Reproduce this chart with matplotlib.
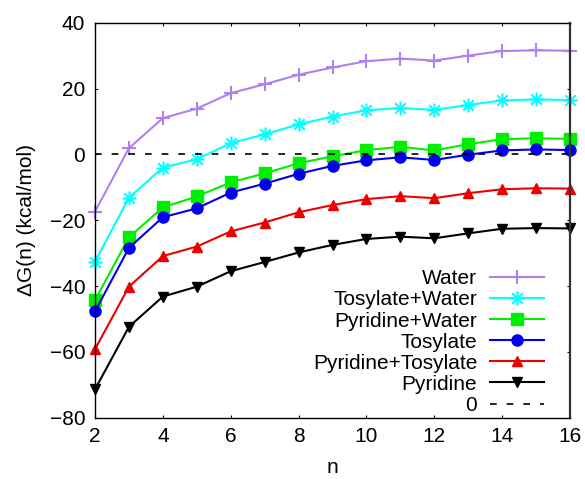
import matplotlib
matplotlib.use("Agg")
import matplotlib.pyplot as plt
from matplotlib.path import Path

plt.rcParams['font.family'] = ['Liberation Sans', 'DejaVu Sans']

n = list(range(2, 17))

water = [-17.4, 1.9, 11.0, 13.9, 18.6, 21.3, 24.2, 26.4, 28.3, 29.1, 28.5, 30.0, 31.4, 31.6, 31.5]
tos_water = [-32.6, -13.2, -4.0, -1.5, 3.4, 6.1, 9.1, 11.5, 13.4, 14.1, 13.5, 15.0, 16.4, 16.7, 16.5]
pyr_water = [-44.3, -25.2, -16.1, -12.8, -8.5, -5.8, -2.7, -0.6, 1.3, 2.3, 1.2, 3.1, 4.6, 4.9, 4.7]
tosylate = [-47.7, -28.4, -19.1, -16.4, -11.6, -8.9, -5.9, -3.5, -1.8, -0.9, -1.7, -0.1, 1.2, 1.5, 1.3]
pyr_tos = [-59.2, -40.2, -30.9, -28.0, -23.4, -20.7, -17.6, -15.4, -13.6, -12.7, -13.3, -11.8, -10.6, -10.3, -10.4]
pyridine = [-71.4, -52.4, -43.2, -40.2, -35.5, -32.7, -29.8, -27.5, -25.7, -25.0, -25.5, -24.0, -22.6, -22.4, -22.5]

# gnuplot style asterisk (plus + cross)
asterisk = Path([(-1, 0), (1, 0), (0, -1), (0, 1),
                 (-0.75, -0.75), (0.75, 0.75), (-0.75, 0.75), (0.75, -0.75)],
                [Path.MOVETO, Path.LINETO] * 4)

fig = plt.figure(figsize=(5.85, 4.79), dpi=100)
ax = fig.add_axes([0.1624, 0.128, 0.812, 0.8246])

lw = 1.5
kw = dict(lw=lw, clip_on=False)
ax.plot(n, water, color='#b080f0', marker='+', ms=10, mew=1.5, label='Water', **kw)
ax.plot(n, tos_water, color='#00ffff', marker=asterisk, ms=10, mew=1.5, label='Tosylate+Water', **kw)
ax.plot(n, pyr_water, color='#00ee00', marker='s', ms=8, label='Pyridine+Water', **kw)
ax.plot(n, tosylate, color='#0000ee', marker='o', ms=8, label='Tosylate', **kw)
ax.plot(n, pyr_tos, color='#ee0000', marker='^', ms=7, label='Pyridine+Tosylate', **kw)
ax.plot(n, pyridine, color='black', marker='v', ms=7, label='Pyridine', **kw)
ax.axhline(0, color='black', ls=(0, (4, 6)), lw=1.2, label='0')

ax.set_xlim(2, 16)
ax.set_ylim(-80, 40)
ax.set_xticks(range(2, 17, 2))
ax.set_yticks(range(-80, 41, 20))
ax.tick_params(direction='in', top=True, right=True, labelsize=15, length=2.5, pad=7)
for s in ax.spines.values():
    s.set_linewidth(1.0)
ax.spines['right'].set_linewidth(1.6)
ax.spines['right'].set_color('#333333')

ax.set_xlabel('n', fontsize=15, labelpad=8)
ax.set_ylabel('ΔG(n) (kcal/mol)', fontsize=15, labelpad=10)

ax.legend(loc='lower right', bbox_to_anchor=(0.98, -0.035), frameon=False,
          markerfirst=False, fontsize=15, handlelength=2.6, labelspacing=0.1,
          handletextpad=0.6, borderpad=0.3)

fig.savefig('out.png', dpi=100)
